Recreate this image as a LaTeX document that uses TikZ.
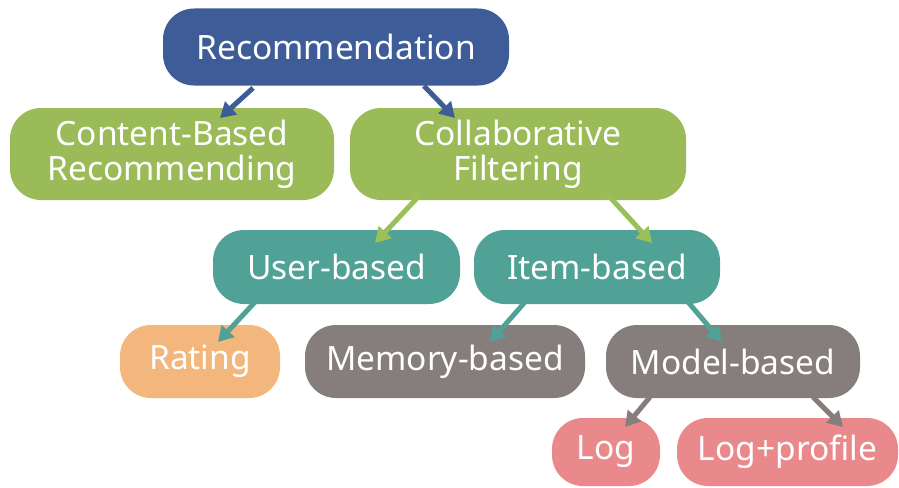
\documentclass[tikz,border=0pt]{standalone}
\usepackage{fontspec}
\setmainfont{Noto Sans}
\usetikzlibrary{calc,arrows.meta}
\definecolor{cblue}{RGB}{62,92,151}
\definecolor{cgreen}{RGB}{155,187,89}
\definecolor{cgreenar}{RGB}{155,192,90}
\definecolor{cteal}{RGB}{80,162,150}
\definecolor{corange}{RGB}{243,182,124}
\definecolor{cgray}{RGB}{133,126,124}
\definecolor{cpink}{RGB}{234,137,140}
\tikzset{
  box/.style={rounded corners=31pt, text=white, align=center, inner sep=0pt,
    font=\fontsize{33.5}{35}\selectfont},
  conn/.style={line width=5pt, -{Triangle[length=15pt,width=17pt]}},
}
\begin{document}
\begin{tikzpicture}[x=1pt,y=-1pt]
\useasboundingbox[fill=white] (0,0) rectangle (899,487);
\node[box, fill=cblue, minimum width=346pt, minimum height=77pt] (rec) at (336,47) {Recommendation};
\node[box, fill=cgreen, minimum width=324pt, minimum height=92pt] (cbr) at (172,154) {Content-Based\\Recommending};
\node[box, fill=cgreen, minimum width=336pt, minimum height=92pt] (cf) at (518,154) {Collaborative\\Filtering};
\node[box, fill=cteal, minimum width=247pt, minimum height=74pt] (ub) at (336.5,267) {User-based};
\node[box, fill=cteal, minimum width=246pt, minimum height=74pt] (ib) at (597,267) {Item-based};
\node[box, fill=corange, minimum width=160pt, minimum height=73pt] (rating) at (200,361.5) {Rating};
\node[box, fill=cgray, minimum width=280pt, minimum height=73pt] (mem) at (445,361.5) {Memory-based};
\node[box, fill=cgray, minimum width=254pt, minimum height=73pt] (model) at (733,361.5) {Model-based};
\node[box, fill=cpink, minimum width=108pt, minimum height=68pt] (log) at (606,452) {Log};
\node[box, fill=cpink, minimum width=221pt, minimum height=68pt] (lp) at (787.5,452) {Log+profile};
\draw[conn, cblue] ($(rec.center)+(-83,41)$) -- ($(cbr.center)+(48,-36)$);
\draw[conn, cblue] ($(rec.center)+(88,39)$) -- ($(cf.center)+(-63,-36)$);
\draw[conn, cgreenar] ($(cf.center)+(-100,43)$) -- ($(ub.center)+(38.5,-24)$);
\draw[conn, cgreenar] ($(cf.center)+(90,41)$) -- ($(ib.center)+(55,-24)$);
\draw[conn, cteal] ($(ub.center)+(-81.5,35)$) -- ($(rating.center)+(18,-19.5)$);
\draw[conn, cteal] ($(ib.center)+(-72,35)$) -- ($(mem.center)+(45,-19.5)$);
\draw[conn, cteal] ($(ib.center)+(91,35)$) -- ($(model.center)+(-11,-19.5)$);
\draw[conn, cgray] ($(model.center)+(-83,35.5)$) -- ($(log.center)+(19,-25)$);
\draw[conn, cgray] ($(model.center)+(80,35.5)$) -- ($(lp.center)+(55.5,-25)$);
\end{tikzpicture}
\end{document}
